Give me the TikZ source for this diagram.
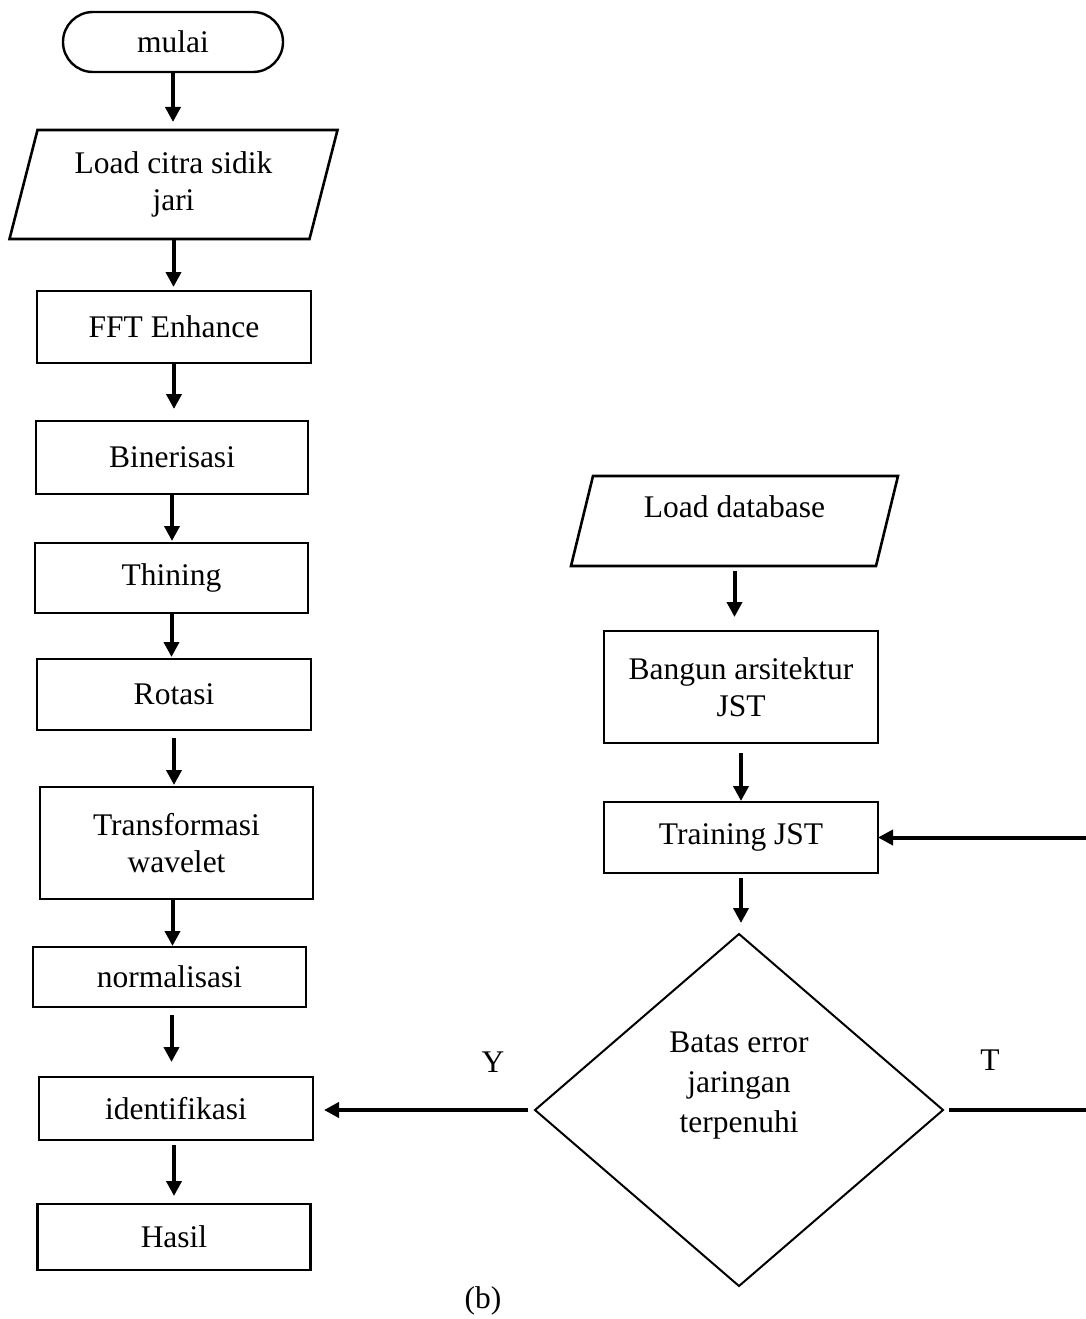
\documentclass[tikz,border=0pt]{standalone}
\usepackage{fontspec}
\setmainfont{Liberation Serif}
\usetikzlibrary{arrows.meta,shapes.geometric}
\begin{document}
\begin{tikzpicture}[x=1pt,y=-1pt,
  every node/.style={font=\fontsize{31.5}{37}\selectfont, align=center, inner sep=0pt, outer sep=0pt},
  procbox/.style={draw, line width=2.6pt},
  iobox/.style={},
  ioline/.style={line width=2.6pt, line join=miter},
  arr/.style={line width=4pt, -{Triangle[length=15pt,width=15pt]}},
  plainline/.style={line width=4pt}]
\useasboundingbox (0,0) rectangle (1085,1319);

% left column: fingerprint processing
\node[draw, line width=2.4pt, rounded corners=30pt, minimum width=220pt, minimum height=60pt] (start) at (173,42) {mulai};
\node[iobox, minimum width=300pt, minimum height=109pt] (in1) at (173.5,184.5) {Load citra sidik\\jari};
\draw[ioline] ([xshift=14pt]in1.north west) -- ([xshift=14pt]in1.north east) -- ([xshift=-14pt]in1.south east) -- ([xshift=-14pt]in1.south west) -- cycle;
\node[procbox, minimum width=274pt, minimum height=72pt] (fft) at (174,327) {FFT Enhance};
\node[procbox, minimum width=272pt, minimum height=73pt] (bin) at (172,457.5) {Binerisasi};
\node[procbox, minimum width=273pt, minimum height=70pt] (thin) at (171.5,578) {Thining};
\node[procbox, minimum width=274pt, minimum height=71pt] (rot) at (174,694.5) {Rotasi};
\node[procbox, minimum width=273pt, minimum height=112pt] (trans) at (176.5,843) {Transformasi\\wavelet};
\node[procbox, minimum width=273pt, minimum height=60pt] (norm) at (169.5,977) {normalisasi};
\node[procbox, minimum width=274pt, minimum height=63pt] (ident) at (176,1108.5) {identifikasi};
\node[procbox, minimum width=273pt, minimum height=66pt] (hasil) at (174,1237) {Hasil};

% right column: network training
\node[iobox, minimum width=305pt, minimum height=90pt] (db) at (734.5,521) {};
\draw[ioline] ([xshift=11pt]db.north west) -- ([xshift=11pt]db.north east) -- ([xshift=-11pt]db.south east) -- ([xshift=-11pt]db.south west) -- cycle;
\node (dbtext) at (734.5,507) {Load database};
\node[procbox, minimum width=274pt, minimum height=112pt] (build) at (741,687) {Bangun arsitektur\\JST};
\node[procbox, minimum width=274pt, minimum height=71pt] (train) at (741,837.5) {Training JST};
\node[draw, diamond, line width=2pt, minimum width=408pt, minimum height=352pt] (dec) at (739,1110) {};
\node[font=\fontsize{31.5}{40}\selectfont] (dectext) at (739,1086) {Batas error\\jaringan\\terpenuhi};
\coordinate (loop) at (1100,1110);

% connectors
\draw[arr, shorten <=1pt, shorten >=8pt] (start.south) -- (start.south |- in1.north);
\draw[arr, shorten >=4pt] (in1.south) -- (in1.south |- fft.north);
\draw[arr, shorten >=12pt] (fft.south) -- (fft.south |- bin.north);
\draw[arr, shorten >=2pt] (bin.south) -- (bin.south |- thin.north);
\draw[arr, shorten >=2pt] (thin.south) -- (thin.south |- rot.north);
\draw[arr, shorten <=8pt, shorten >=2pt] (rot.south) -- (rot.south |- trans.north);
\draw[arr, shorten >=1pt] ([xshift=-4pt]trans.south) -- ([xshift=-4pt]trans.south |- norm.north);
\draw[arr, shorten <=8pt, shorten >=15pt] ([xshift=2pt]norm.south) -- ([xshift=2pt]norm.south |- ident.north);
\draw[arr, shorten <=5pt, shorten >=8pt] ([xshift=-2pt]ident.south) -- ([xshift=-2pt]ident.south |- hasil.north);

\draw[arr, shorten <=5pt, shorten >=14pt] (db.south) -- (db.south |- build.north);
\draw[arr, shorten <=10pt, shorten >=1pt] (build.south) -- (build.south |- train.north);
\draw[arr, shorten <=5pt, shorten >=11pt] (train.south) -- (train.south |- dec.north);

\draw[arr, shorten <=7pt, shorten >=11pt] (dec.west) -- (dec.west -| ident.east);
\draw[plainline, shorten <=6pt] (dec.east) -- (loop);
\draw[arr] (loop) |- (train.east);

% branch labels and caption
\node (ylab) at (493,1062) {Y};
\node (tlab) at (990,1060) {T};
\node (cap) at (483,1301) {(b)};
\end{tikzpicture}
\end{document}
